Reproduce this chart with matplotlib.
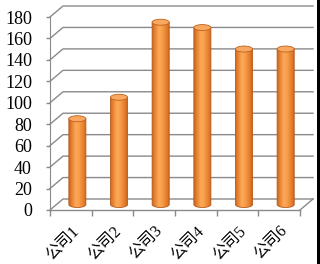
import numpy as np
import matplotlib
matplotlib.use("Agg")
import matplotlib.pyplot as plt
from matplotlib.patches import Ellipse, PathPatch, Rectangle
from matplotlib.path import Path
from matplotlib.colors import LinearSegmentedColormap
from matplotlib.transforms import ScaledTranslation

categories = ["公司1", "公司2", "公司3", "公司4", "公司5", "公司6"]
values = [80, 100, 170, 165, 145, 145]
yticks = [0, 20, 40, 60, 80, 100, 120, 140, 160, 180]

DX = 0.312   # depth offset (category units)
DY = 10.26   # depth offset (value units)
BW = 0.41    # cylinder width
EH = 5.6     # ellipse height (value units)
GRID = "#8a8a8a"

fig = plt.figure(figsize=(3.2, 2.64), dpi=100)
fig.patch.set_facecolor("white")
ax = fig.add_axes([50/320, 54/264, 263/320, 204/264])
ax.set_xlim(0, len(categories) + DX)
ax.set_ylim(0, yticks[-1] + DY)
for s in ["top", "right", "bottom"]:
    ax.spines[s].set_visible(False)
ax.spines["left"].set_bounds(0, yticks[-1])
ax.spines["left"].set_color(GRID)
ax.patch.set_alpha(0)

n = len(categories)
# back wall gridlines
for v in yticks:
    ax.plot([0, DX, n + DX], [v, v + DY, v + DY], color=GRID, lw=1.0, zorder=1, clip_on=False)
# floor
ax.plot([0, n], [0, 0], color=GRID, lw=1.0, zorder=1, clip_on=False)
ax.plot([n, n + DX], [0, DY], color=GRID, lw=1.0, zorder=1, clip_on=False)

# y ticks
ax.set_yticks(yticks)
ax.set_yticklabels([str(v) for v in yticks], family="Liberation Serif", fontsize=13)
ax.tick_params(axis="y", length=3, width=1, color=GRID, pad=10)

# x ticks: minor at boundaries, labels at centers
ax.set_xticks(np.arange(0, n + 1), minor=True)
ax.set_xticks(np.arange(n) + 0.5)
ax.set_xticklabels(categories, rotation=45, ha="right", rotation_mode="anchor",
                   family=["Liberation Serif", "Noto Sans CJK SC"], fontsize=11.5)
ax.tick_params(axis="x", which="major", length=0, pad=7)
ax.tick_params(axis="x", which="minor", length=4, width=1, color=GRID)
for lab in ax.get_xticklabels():
    lab.set_transform(lab.get_transform() + ScaledTranslation(0/100, -3/100, fig.dpi_scale_trans))

# cylinders
cmap = LinearSegmentedColormap.from_list(
    "cyl", [(0.0, "#c9661f"), (0.12, "#e27c2c"), (0.38, "#fca95a"),
            (0.55, "#f9a04c"), (0.85, "#e27a28"), (1.0, "#bf5e1a")])
grad = np.linspace(0, 1, 64).reshape(1, -1)
t = np.linspace(np.pi, 2 * np.pi, 40)
for i, v in enumerate(values):
    cx = i + 0.5 + DX / 2
    base = DY / 2
    top = v + DY / 2
    x0, x1 = cx - BW / 2, cx + BW / 2
    ex = cx + (BW / 2) * np.cos(t)
    ey = base + (EH / 2) * np.sin(t)
    verts = [(x0, top)] + list(zip(ex, ey)) + [(x1, top), (x0, top)]
    codes = [Path.MOVETO] + [Path.LINETO] * (len(verts) - 2) + [Path.CLOSEPOLY]
    body = PathPatch(Path(verts, codes), facecolor="none", edgecolor="#b55a1c", lw=0.6, zorder=4)
    ax.add_patch(body)
    im = ax.imshow(grad, cmap=cmap, extent=[x0, x1, base - EH / 2, top],
                   aspect="auto", zorder=3, interpolation="bilinear")
    im.set_clip_path(body)
    topel = Ellipse((cx, top), BW, EH, facecolor="#f8a860", edgecolor="#c0621e", lw=0.6, zorder=5)
    ax.add_patch(topel)

ax.set_xlim(0, n + DX)
ax.set_ylim(0, yticks[-1] + DY)

# dark strip at right edge of the image
fig.add_artist(Rectangle((316.5/320, 0), 3.5/320, 1, transform=fig.transFigure,
                         facecolor="black", edgecolor="none"))

fig.savefig("out.png", dpi=100)
